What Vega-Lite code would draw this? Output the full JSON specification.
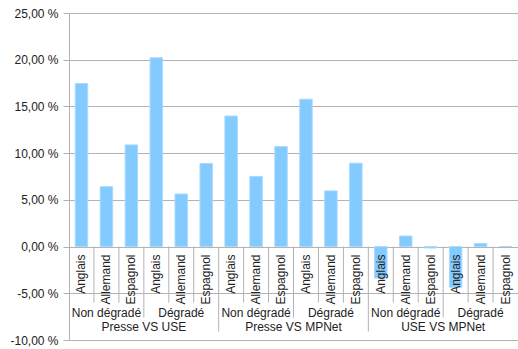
{
  "$schema": "https://vega.github.io/schema/vega-lite/v6.json",
  "width": 449,
  "height": 327,
  "autosize": "none",
  "padding": {"left": 69, "top": 13, "right": 0, "bottom": 9},
  "background": "white",
  "config": {
    "view": {"stroke": null},
    "font": "Liberation Sans",
    "text": {"font": "Liberation Sans", "fontSize": 12, "color": "#222222"}
  },
  "data": {
    "values": [
      {"id": 1, "comparaison": "Presse VS USE", "etat": "Non dégradé", "langue": "Anglais", "v": 17.45},
      {"id": 2, "comparaison": "Presse VS USE", "etat": "Non dégradé", "langue": "Allemand", "v": 6.41},
      {"id": 3, "comparaison": "Presse VS USE", "etat": "Non dégradé", "langue": "Espagnol", "v": 10.88},
      {"id": 4, "comparaison": "Presse VS USE", "etat": "Dégradé", "langue": "Anglais", "v": 20.2},
      {"id": 5, "comparaison": "Presse VS USE", "etat": "Dégradé", "langue": "Allemand", "v": 5.63},
      {"id": 6, "comparaison": "Presse VS USE", "etat": "Dégradé", "langue": "Espagnol", "v": 8.9},
      {"id": 7, "comparaison": "Presse VS MPNet", "etat": "Non dégradé", "langue": "Anglais", "v": 13.97},
      {"id": 8, "comparaison": "Presse VS MPNet", "etat": "Non dégradé", "langue": "Allemand", "v": 7.51},
      {"id": 9, "comparaison": "Presse VS MPNet", "etat": "Non dégradé", "langue": "Espagnol", "v": 10.7},
      {"id": 10, "comparaison": "Presse VS MPNet", "etat": "Dégradé", "langue": "Anglais", "v": 15.78},
      {"id": 11, "comparaison": "Presse VS MPNet", "etat": "Dégradé", "langue": "Allemand", "v": 5.96},
      {"id": 12, "comparaison": "Presse VS MPNet", "etat": "Dégradé", "langue": "Espagnol", "v": 8.93},
      {"id": 13, "comparaison": "USE VS MPNet", "etat": "Non dégradé", "langue": "Anglais", "v": -3.37},
      {"id": 14, "comparaison": "USE VS MPNet", "etat": "Non dégradé", "langue": "Allemand", "v": 1.13},
      {"id": 15, "comparaison": "USE VS MPNet", "etat": "Non dégradé", "langue": "Espagnol", "v": -0.15},
      {"id": 16, "comparaison": "USE VS MPNet", "etat": "Dégradé", "langue": "Anglais", "v": -4.36},
      {"id": 17, "comparaison": "USE VS MPNet", "etat": "Dégradé", "langue": "Allemand", "v": 0.32},
      {"id": 18, "comparaison": "USE VS MPNet", "etat": "Dégradé", "langue": "Espagnol", "v": 0}
    ]
  },
  "layer": [
    {
      "mark": {"type": "bar", "color": "#83caff", "width": {"band": 0.5}, "stroke": "#a9daff", "strokeWidth": 1},
      "encoding": {
        "x": {"field": "id", "type": "ordinal", "axis": null, "scale": {"paddingInner": 0, "paddingOuter": 0}},
        "y": {
          "field": "v", "type": "quantitative",
          "scale": {"domain": [-10, 25], "nice": false, "zero": false},
          "axis": {
            "title": null,
            "values": [-10, -5, 0, 5, 10, 15, 20, 25],
            "labelExpr": "replace(replace(format(datum.value, '.2f'), '.', ','), '\u2212', '-') + ' %'",
            "labelFont": "Liberation Sans",
            "labelFontSize": 12,
            "labelColor": "#222222",
            "labelPadding": 5,
            "tickSize": 6,
            "tickColor": "#b3b3b3",
            "domainColor": "#b3b3b3",
            "gridColor": "#b3b3b3",
            "grid": true
          }
        }
      }
    },
    {
      "mark": {"type": "text", "angle": 270, "align": "right", "baseline": "middle"},
      "encoding": {
        "x": {"field": "id", "type": "ordinal"},
        "y": {"datum": -0.85},
        "text": {"field": "langue"}
      }
    },
    {
      "transform": [{"filter": "datum.langue == 'Allemand'"}],
      "mark": {"type": "text", "align": "center", "baseline": "middle"},
      "encoding": {
        "x": {"field": "id", "type": "ordinal"},
        "y": {"datum": -7.06},
        "text": {"field": "etat"}
      }
    },
    {
      "transform": [{"filter": "datum.langue == 'Anglais' && datum.etat == 'Dégradé'"}],
      "mark": {"type": "text", "align": "center", "baseline": "middle"},
      "encoding": {
        "x": {"field": "id", "type": "ordinal", "bandPosition": 0},
        "y": {"datum": -8.66},
        "text": {"field": "comparaison"}
      }
    },
    {
      "transform": [{"filter": "datum.langue != 'Anglais'"}],
      "mark": {"type": "rule", "color": "#b3b3b3", "strokeWidth": 1},
      "encoding": {
        "x": {"field": "id", "type": "ordinal", "bandPosition": 0},
        "y": {"datum": 0},
        "y2": {"datum": -6.0}
      }
    },
    {
      "transform": [{"filter": "datum.langue == 'Anglais' && datum.etat == 'Dégradé'"}],
      "mark": {"type": "rule", "color": "#b3b3b3", "strokeWidth": 1},
      "encoding": {
        "x": {"field": "id", "type": "ordinal", "bandPosition": 0},
        "y": {"datum": 0},
        "y2": {"datum": -7.6}
      }
    },
    {
      "transform": [{"filter": "datum.langue == 'Anglais' && datum.etat == 'Non dégradé' && datum.id > 1"}],
      "mark": {"type": "rule", "color": "#b3b3b3", "strokeWidth": 1},
      "encoding": {
        "x": {"field": "id", "type": "ordinal", "bandPosition": 0},
        "y": {"datum": 0},
        "y2": {"datum": -9.1}
      }
    }
  ]
}
